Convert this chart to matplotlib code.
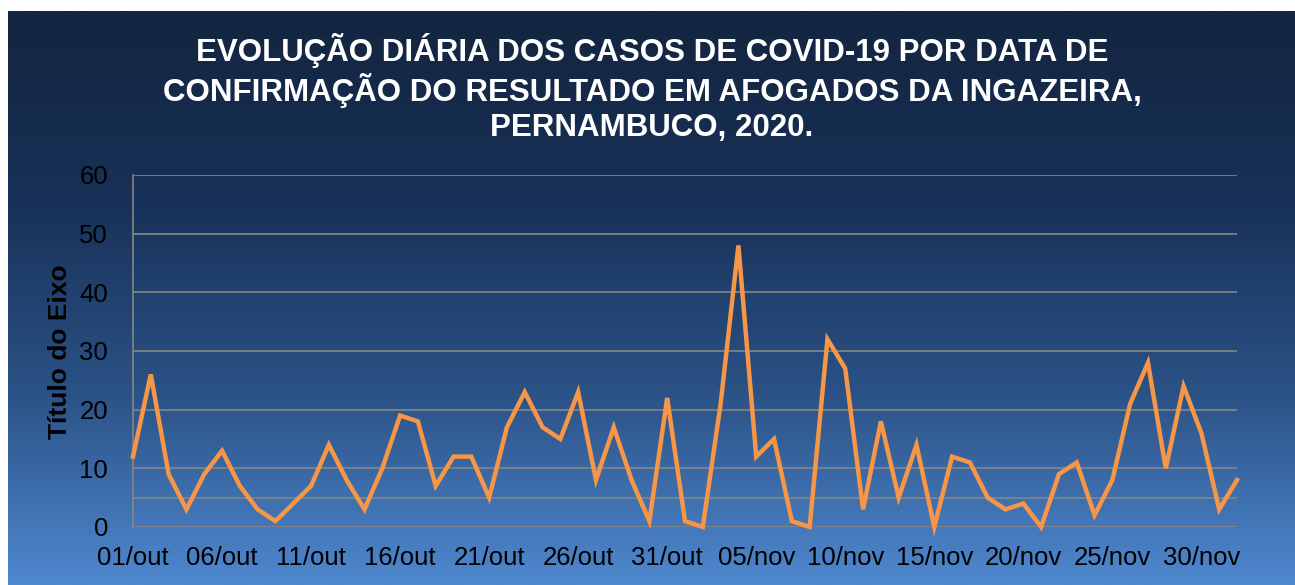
import matplotlib.pyplot as plt
import numpy as np
from matplotlib.colors import LinearSegmentedColormap

plt.rcParams['font.family'] = ['Liberation Sans', 'DejaVu Sans']

# -----------------------------
# Data
# -----------------------------
casos = [12, 26, 9, 3, 9, 13, 7, 3, 1, 4,
         7, 14, 8, 3, 10, 19, 18, 7, 12, 12,
         5, 17, 23, 17, 15, 23, 8, 17, 8, 1,
         22, 1, 0, 21, 48, 12, 15, 1, 0, 32,
         27, 3, 18, 5, 14, 0, 12, 11, 5, 3,
         4, 0, 9, 11, 2, 8, 21, 28, 10, 24,
         16, 3, 8]
dias = ([f"{d:02d}/out" for d in range(1, 32)] +
        [f"{d:02d}/nov" for d in range(1, 31)] +
        ["01/dez", "02/dez"])
tick_idx = list(range(0, 61, 5))
titulo = ("EVOLUÇÃO DIÁRIA DOS CASOS DE COVID-19 POR DATA DE\n"
          "CONFIRMAÇÃO DO RESULTADO EM AFOGADOS DA INGAZEIRA,\n"
          "PERNAMBUCO, 2020.")

W, H = 1295, 585
fig = plt.figure(figsize=(W / 100, H / 100), dpi=100)
fig.patch.set_facecolor("white")

# gradient background panel
bg = fig.add_axes([8 / W, 0, 1 - 8 / W, 1 - 11 / H], zorder=-1)
cmap = LinearSegmentedColormap.from_list(
    "bg", ["#13253f", "#183158", "#2b5286", "#4f88cf"])
grad = np.linspace(0, 1, 256).reshape(-1, 1)
bg.imshow(grad, aspect="auto", cmap=cmap, extent=[0, 1, 1, 0])
bg.set_xlim(0, 1)
bg.set_ylim(1, 0)
bg.axis("off")

# plot area
ax = fig.add_axes([133 / W, (H - 527) / H, (1237 - 133) / W, (527 - 175) / H])
ax.set_facecolor("none")

x = np.arange(len(casos))
ax.plot(x, casos, color="#f79646", linewidth=3.2, clip_on=False, zorder=3,
        solid_joinstyle="miter")

ax.set_xlim(0, len(casos) - 1)
ax.set_ylim(0, 60)
ax.set_yticks([0, 10, 20, 30, 40, 50, 60])
for yv in [0, 5, 10, 20, 30, 40, 50, 60]:
    ax.axhline(yv, color="#868686", linewidth=1.2, zorder=1)

ax.set_xticks(tick_idx)
ax.set_xticklabels([dias[i] for i in tick_idx])
ax.tick_params(axis="x", length=0, pad=14, labelsize=18.5, labelcolor="black")
ax.tick_params(axis="y", length=0, pad=18, labelsize=18.5, labelcolor="black")

for s in ["top", "right", "bottom"]:
    ax.spines[s].set_visible(False)
ax.spines["left"].set_color("#868686")
ax.spines["left"].set_linewidth(1.2)

fig.text(60 / W, 1 - 352 / H, "Título do Eixo", rotation=90, fontsize=19,
         fontweight="bold", color="black", ha="center", va="center")

fig.text(652 / W, 1 - 88 / H, titulo, fontsize=22.5, fontweight="bold",
         color="white", ha="center", va="center", linespacing=1.2)

fig.savefig("out.png", dpi=100)
